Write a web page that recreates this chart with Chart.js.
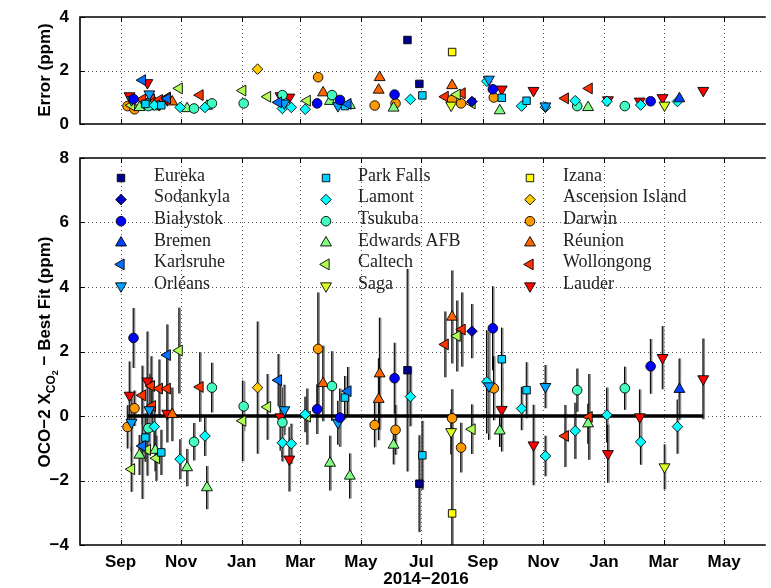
<!DOCTYPE html>
<html><head><meta charset="utf-8">
<script src="https://cdn.jsdelivr.net/npm/chart.js@4/dist/chart.umd.min.js"></script>
<style>
html,body{margin:0;padding:0;background:#fff;overflow:hidden;width:771px;height:588px;}
canvas{position:absolute;left:0;}
#c1{top:0;}
#c2{top:140px;}
</style></head><body>
<canvas id="c1" width="771" height="140"></canvas>
<canvas id="c2" width="771" height="448"></canvas>
<script>
// x values: days since 2014-09-01
const tickDays = [0, 61, 122, 181, 242, 303, 365, 426, 487, 547, 608];
const tickLabels = ['Sep','Nov','Jan','Mar','May','Jul','Sep','Nov','Jan','Mar','May'];
const biasTicks = [-4, -2, 0, 2, 4, 6, 8];
const errTicks = [0, 2, 4];

const siteNames = ['Eureka','Sodankyla','Białystok','Bremen','Karlsruhe','Orléans',
  'Park Falls','Lamont','Tsukuba','Edwards AFB','Caltech','Saga',
  'Izana','Ascension Island','Darwin','Réunion','Wollongong','Lauder'];
const siteColors = ['#00008f','#0000c8','#0000ff','#0040ff','#0070ff','#00a0ff',
  '#00d0ff','#00ffff','#40ffc0','#80ff80','#b0ff50','#d8ff20',
  '#ffff00','#ffcc00','#ff9900','#ff6600','#ff3300','#ff0000'];
const siteMarkers = ['square','diamond','circle','up','left','down',
  'square','diamond','circle','up','left','down',
  'square','diamond','circle','up','left','down'];

const eurekaDay = [289, 301];            const eurekaBias = [1.42, -2.10];   const eurekaErr = [3.14, 1.50];
const sodankylaDay = [354];              const sodankylaBias = [2.63];       const sodankylaErr = [0.84];
const bialystokDay = [13, 198, 221, 276, 375, 534];
const bialystokBias = [2.42, 0.21, -0.05, 1.17, 2.72, 1.54];
const bialystokErr = [0.93, 0.77, 0.90, 1.10, 1.30, 0.85];
const bremenDay = [563];                 const bremenBias = [0.83];          const bremenErr = [0.95];
const karlsruheDay = [22, 47, 159, 229];
const karlsruheBias = [-0.93, 1.89, 1.11, 0.77];
const karlsruheErr = [1.64, 0.95, 0.81, 0.75];
const orleansDay = [11, 29, 165, 219, 371, 428];
const orleansBias = [-0.20, 0.19, 0.19, -0.21, 0.93, 0.91];
const orleansErr = [0.90, 1.12, 0.78, 0.68, 1.67, 0.67];
const parkFallsDay = [25, 41, 226, 304, 384, 409];
const parkFallsBias = [-0.67, -1.13, 0.57, -1.22, 1.76, 0.80];
const parkFallsErr = [0.75, 0.70, 0.67, 1.07, 0.98, 0.87];
const lamontDay = [34, 60, 85, 163, 172, 186, 292, 369, 404, 428, 458, 490, 524, 561];
const lamontBias = [-0.33, -1.34, -0.62, -0.83, -0.86, 0.05, 0.60, 1.06, 0.23, -1.24, -0.46, 0.03, -0.80, -0.33];
const lamontErr = [0.70, 0.62, 0.62, 0.58, 0.62, 0.55, 0.92, 1.60, 0.67, 0.63, 0.87, 0.85, 0.71, 0.84];
const tsukubaDay = [28, 74, 92, 124, 163, 213, 460, 508];
const tsukubaBias = [-0.38, -0.80, 0.88, 0.30, -0.20, 0.93, 0.80, 0.86];
const tsukubaErr = [0.67, 0.58, 0.77, 0.77, 1.08, 1.08, 0.67, 0.67];
const edwardsDay = [19, 35, 67, 87, 211, 231, 275, 382, 471];
const edwardsBias = [-1.21, -1.06, -1.60, -2.22, -1.46, -1.86, -0.90, -0.46, -0.24];
const edwardsErr = [0.62, 0.65, 0.58, 0.67, 0.85, 0.70, 0.60, 0.50, 0.62];
const caltechDay = [11, 27, 36, 59, 123, 148, 188, 339, 354];
const caltechBias = [-1.65, -1.05, -1.31, 2.03, -0.15, 0.28, -0.02, 2.48, -0.41];
const caltechErr = [0.70, 0.80, 0.70, 1.33, 1.25, 1.02, 0.87, 1.10, 0.77];
const sagaDay = [333, 548];              const sagaBias = [-0.49, -1.58];    const sagaErr = [0.70, 0.70];
const izanaDay = [334];                  const izanaBias = [-3.02];          const izanaErr = [2.69];
const ascensionDay = [138];              const ascensionBias = [0.88];       const ascensionErr = [2.05];
const darwinDay = [7, 14, 199, 256, 277, 334, 343, 376];
const darwinBias = [-0.34, 0.24, 2.08, -0.28, -0.43, -0.07, -0.98, 0.86];
const darwinErr = [0.67, 0.55, 1.75, 0.69, 0.77, 0.90, 0.77, 0.99];
const reunionDay = [52, 204, 260, 261, 334];
const reunionBias = [0.05, 1.01, 0.52, 1.31, 3.07];
const reunionErr = [0.83, 1.17, 1.27, 1.74, 1.44];
const wollongongDay = [22, 31, 32, 39, 47, 80, 327, 344, 448, 472];
const wollongongBias = [0.64, 0.93, 0.31, 0.85, 0.85, 0.90, 2.22, 2.68, -0.62, -0.03];
const wollongongErr = [0.92, 0.92, 0.80, 0.90, 0.99, 1.08, 1.02, 1.15, 0.96, 1.33];
const lauderDay = [9, 27, 47, 161, 170, 384, 416, 491, 523, 546, 587];
const lauderBias = [0.64, 1.08, 0.08, -0.03, -1.34, 0.20, -0.90, -1.17, -0.03, 1.81, 1.15];
const lauderErr = [1.05, 1.54, 0.90, 1.05, 1.00, 1.30, 1.25, 0.90, 0.85, 0.98, 1.25];

const zeroLineDays = [7, 587];

const siteDays = [eurekaDay, sodankylaDay, bialystokDay, bremenDay, karlsruheDay, orleansDay,
  parkFallsDay, lamontDay, tsukubaDay, edwardsDay, caltechDay, sagaDay,
  izanaDay, ascensionDay, darwinDay, reunionDay, wollongongDay, lauderDay];
const siteBias = [eurekaBias, sodankylaBias, bialystokBias, bremenBias, karlsruheBias, orleansBias,
  parkFallsBias, lamontBias, tsukubaBias, edwardsBias, caltechBias, sagaBias,
  izanaBias, ascensionBias, darwinBias, reunionBias, wollongongBias, lauderBias];
const siteErr = [eurekaErr, sodankylaErr, bialystokErr, bremenErr, karlsruheErr, orleansErr,
  parkFallsErr, lamontErr, tsukubaErr, edwardsErr, caltechErr, sagaErr,
  izanaErr, ascensionErr, darwinErr, reunionErr, wollongongErr, lauderErr];

const markerStyle = {
  square:  {pointStyle: 'rect', rotation: 0, radius: 5.3},
  diamond: {pointStyle: 'rectRot', rotation: 0, radius: 5.3},
  circle:  {pointStyle: 'circle', rotation: 0, radius: 4.8},
  up:      {pointStyle: 'triangle', rotation: 0, radius: 6.3},
  left:    {pointStyle: 'triangle', rotation: 270, radius: 6.3},
  down:    {pointStyle: 'triangle', rotation: 180, radius: 6.3}
};

const X_MIN = -40.9, X_MAX = 648;
const tickFont = {family: 'Liberation Sans', weight: 'bold', size: 17};

function siteDatasets(useErrAsY) {
  return siteNames.map((name, i) => {
    const m = markerStyle[siteMarkers[i]];
    return {
      label: name,
      data: siteDays[i].map((d, j) => ({x: d, y: useErrAsY ? siteErr[i][j] : siteBias[i][j]})),
      err: useErrAsY ? null : siteErr[i],
      backgroundColor: siteColors[i],
      borderColor: '#000',
      borderWidth: 0.9,
      pointStyle: m.pointStyle,
      pointRotation: m.rotation,
      pointRadius: m.radius,
      pointHoverRadius: m.radius,
      showLine: false,
      order: 1
    };
  });
}

function makePlugin(opt) {
  return {
    id: 'frame',
    beforeDatasetsDraw(chart) {
      const {ctx, chartArea: a, scales: {x, y}} = chart;
      ctx.save();
      ctx.strokeStyle = '#555';
      ctx.lineWidth = 1;
      ctx.setLineDash([1, 3]);
      tickDays.forEach(d => {
        const px = Math.round(x.getPixelForValue(d)) + 0.5;
        ctx.beginPath(); ctx.moveTo(px, a.top); ctx.lineTo(px, a.bottom); ctx.stroke();
      });
      opt.yTicks.forEach(v => {
        if (v === y.min || v === y.max) return;
        const py = Math.round(y.getPixelForValue(v)) + 0.5;
        ctx.beginPath(); ctx.moveTo(a.left, py); ctx.lineTo(a.right, py); ctx.stroke();
      });
      ctx.setLineDash([]);
      if (opt.errorBars) {
        ctx.beginPath(); ctx.rect(a.left, a.top, a.right - a.left, a.bottom - a.top); ctx.clip();
        chart.data.datasets.forEach(ds => {
          if (!ds.err) return;
          ds.data.forEach((p, j) => {
            const px = x.getPixelForValue(p.x);
            const y1 = y.getPixelForValue(p.y - ds.err[j]);
            const y2 = y.getPixelForValue(p.y + ds.err[j]);
            ctx.strokeStyle = '#8a8a8a'; ctx.lineWidth = 2.4;
            ctx.beginPath(); ctx.moveTo(px + 0.6, y1); ctx.lineTo(px + 0.6, y2); ctx.stroke();
            ctx.strokeStyle = '#000'; ctx.lineWidth = 1;
            ctx.beginPath(); ctx.moveTo(px - 0.3, y1); ctx.lineTo(px - 0.3, y2); ctx.stroke();
          });
        });
      }
      ctx.restore();
    },
    afterDatasetsDraw(chart) {
      const {ctx, chartArea: a, scales: {x, y}} = chart;
      ctx.save();
      // box
      ctx.strokeStyle = '#000';
      ctx.lineWidth = 1.6;
      ctx.beginPath();
      ctx.moveTo(a.right + 2, a.top); ctx.lineTo(a.left, a.top); ctx.lineTo(a.left, a.bottom); ctx.lineTo(a.right + 2, a.bottom);
      ctx.stroke();
      // inner ticks
      ctx.lineWidth = 1;
      tickDays.forEach(d => {
        const px = Math.round(x.getPixelForValue(d)) + 0.5;
        ctx.beginPath(); ctx.moveTo(px, a.bottom); ctx.lineTo(px, a.bottom - 5); ctx.stroke();
        ctx.beginPath(); ctx.moveTo(px, a.top); ctx.lineTo(px, a.top + 5); ctx.stroke();
      });
      opt.yTicks.forEach(v => {
        const py = Math.round(y.getPixelForValue(v)) + 0.5;
        ctx.beginPath(); ctx.moveTo(a.left, py); ctx.lineTo(a.left + 5, py); ctx.stroke();
      });
      // y title
      ctx.fillStyle = '#000';
      ctx.textBaseline = 'alphabetic';
      ctx.translate(opt.titleX, opt.titleY);
      ctx.rotate(-Math.PI / 2);
      const parts = opt.titleParts;
      let total = 0;
      parts.forEach(p => { ctx.font = 'bold ' + p.size + 'px "Liberation Sans"'; p.w = ctx.measureText(p.t).width; total += p.w; });
      let cx = -total / 2;
      parts.forEach(p => {
        ctx.font = 'bold ' + p.size + 'px "Liberation Sans"';
        ctx.fillText(p.t, cx, p.dy);
        cx += p.w;
      });
      ctx.setTransform(1, 0, 0, 1, 0, 0);
      if (opt.xTitle) {
        ctx.font = 'bold 17px "Liberation Sans"';
        ctx.textAlign = 'center';
        ctx.textBaseline = 'middle';
        ctx.fillText(opt.xTitle, opt.xTitleX, opt.xTitleY);
      }
      if (opt.legend) {
        const colMarkerX = [121, 326, 530];
        const colTextX = [154, 358, 563];
        const rowY0 = a.top + 20, rowStep = 21.6;
        chart.data.datasets.forEach((ds, i) => {
          if (i >= siteNames.length) return;
          const col = Math.floor(i / 6), row = i % 6;
          const yy = rowY0 + row * rowStep;
          ctx.fillStyle = ds.backgroundColor;
          ctx.strokeStyle = '#000';
          ctx.lineWidth = 0.9;
          Chart.helpers.drawPoint(ctx, {pointStyle: ds.pointStyle, rotation: ds.pointRotation, radius: ds.pointRadius, borderWidth: 0.9}, colMarkerX[col], yy);
          ctx.fillStyle = '#222';
          ctx.font = '18px "Liberation Serif"';
          ctx.textAlign = 'left';
          ctx.textBaseline = 'middle';
          ctx.fillText(ds.label, colTextX[col], yy - 2);
        });
      }
      ctx.restore();
    }
  };
}

function xScale(showLabels, height) {
  return {
    type: 'linear', min: X_MIN, max: X_MAX,
    afterBuildTicks: s => { s.ticks = tickDays.map(v => ({value: v})); },
    afterFit: s => { s.height = height; s.paddingLeft = 0; s.paddingRight = 0; },
    grid: {display: false, drawTicks: false},
    border: {display: false},
    ticks: {
      display: showLabels, autoSkip: false, maxRotation: 0, padding: 7, color: '#000', font: tickFont,
      callback: (v) => { const k = tickDays.indexOf(v); return k >= 0 ? tickLabels[k] : ''; }
    }
  };
}
function yScale(min, max, ticks) {
  return {
    type: 'linear', min: min, max: max,
    afterBuildTicks: s => { s.ticks = ticks.map(v => ({value: v})); },
    afterFit: s => { s.width = 80; s.paddingTop = 0; s.paddingBottom = 0; },
    grid: {display: false, drawTicks: false},
    border: {display: false},
    ticks: {
      padding: 11, color: '#000', font: tickFont,
      callback: v => (v < 0 ? '\u2212' + Math.abs(v) : String(v))
    }
  };
}

// Top panel: errors
new Chart(document.getElementById('c1'), {
  type: 'scatter',
  data: {datasets: siteDatasets(true)},
  options: {
    responsive: false, animation: false, devicePixelRatio: 1,
    layout: {padding: {top: 17, right: 0, left: 0, bottom: 0}},
    plugins: {legend: {display: false}, tooltip: {enabled: false}},
    scales: {x: xScale(false, 16), y: yScale(0, 4, errTicks)}
  },
  plugins: [makePlugin({
    yTicks: errTicks, errorBars: false,
    titleX: 50, titleY: 70,
    titleParts: [{t: 'Error (ppm)', size: 17, dy: 0}]
  })]
});

// Bottom panel: bias
const bottomSets = siteDatasets(false);
bottomSets.push({
  label: 'zero',
  data: zeroLineDays.map(d => ({x: d, y: 0})),
  showLine: true, borderColor: '#000', borderWidth: 3.5, pointRadius: 0, order: 100
});
new Chart(document.getElementById('c2'), {
  type: 'scatter',
  data: {datasets: bottomSets},
  options: {
    responsive: false, animation: false, devicePixelRatio: 1,
    layout: {padding: {top: 18, right: 0, left: 0, bottom: 0}},
    plugins: {legend: {display: false}, tooltip: {enabled: false}},
    scales: {x: xScale(true, 43), y: yScale(-4, 8, biasTicks)}
  },
  plugins: [makePlugin({
    yTicks: biasTicks, errorBars: true,
    titleX: 50, titleY: 212,
    titleParts: [
      {t: 'OCO\u22122 X', size: 17, dy: 0},
      {t: 'CO', size: 12, dy: 5},
      {t: '2', size: 9, dy: 8},
      {t: ' \u2212 Best Fit (ppm)', size: 17, dy: 0}
    ],
    legend: true,
    xTitle: '2014\u22122016', xTitleX: 426, xTitleY: 439
  })]
});
</script>
</body></html>
